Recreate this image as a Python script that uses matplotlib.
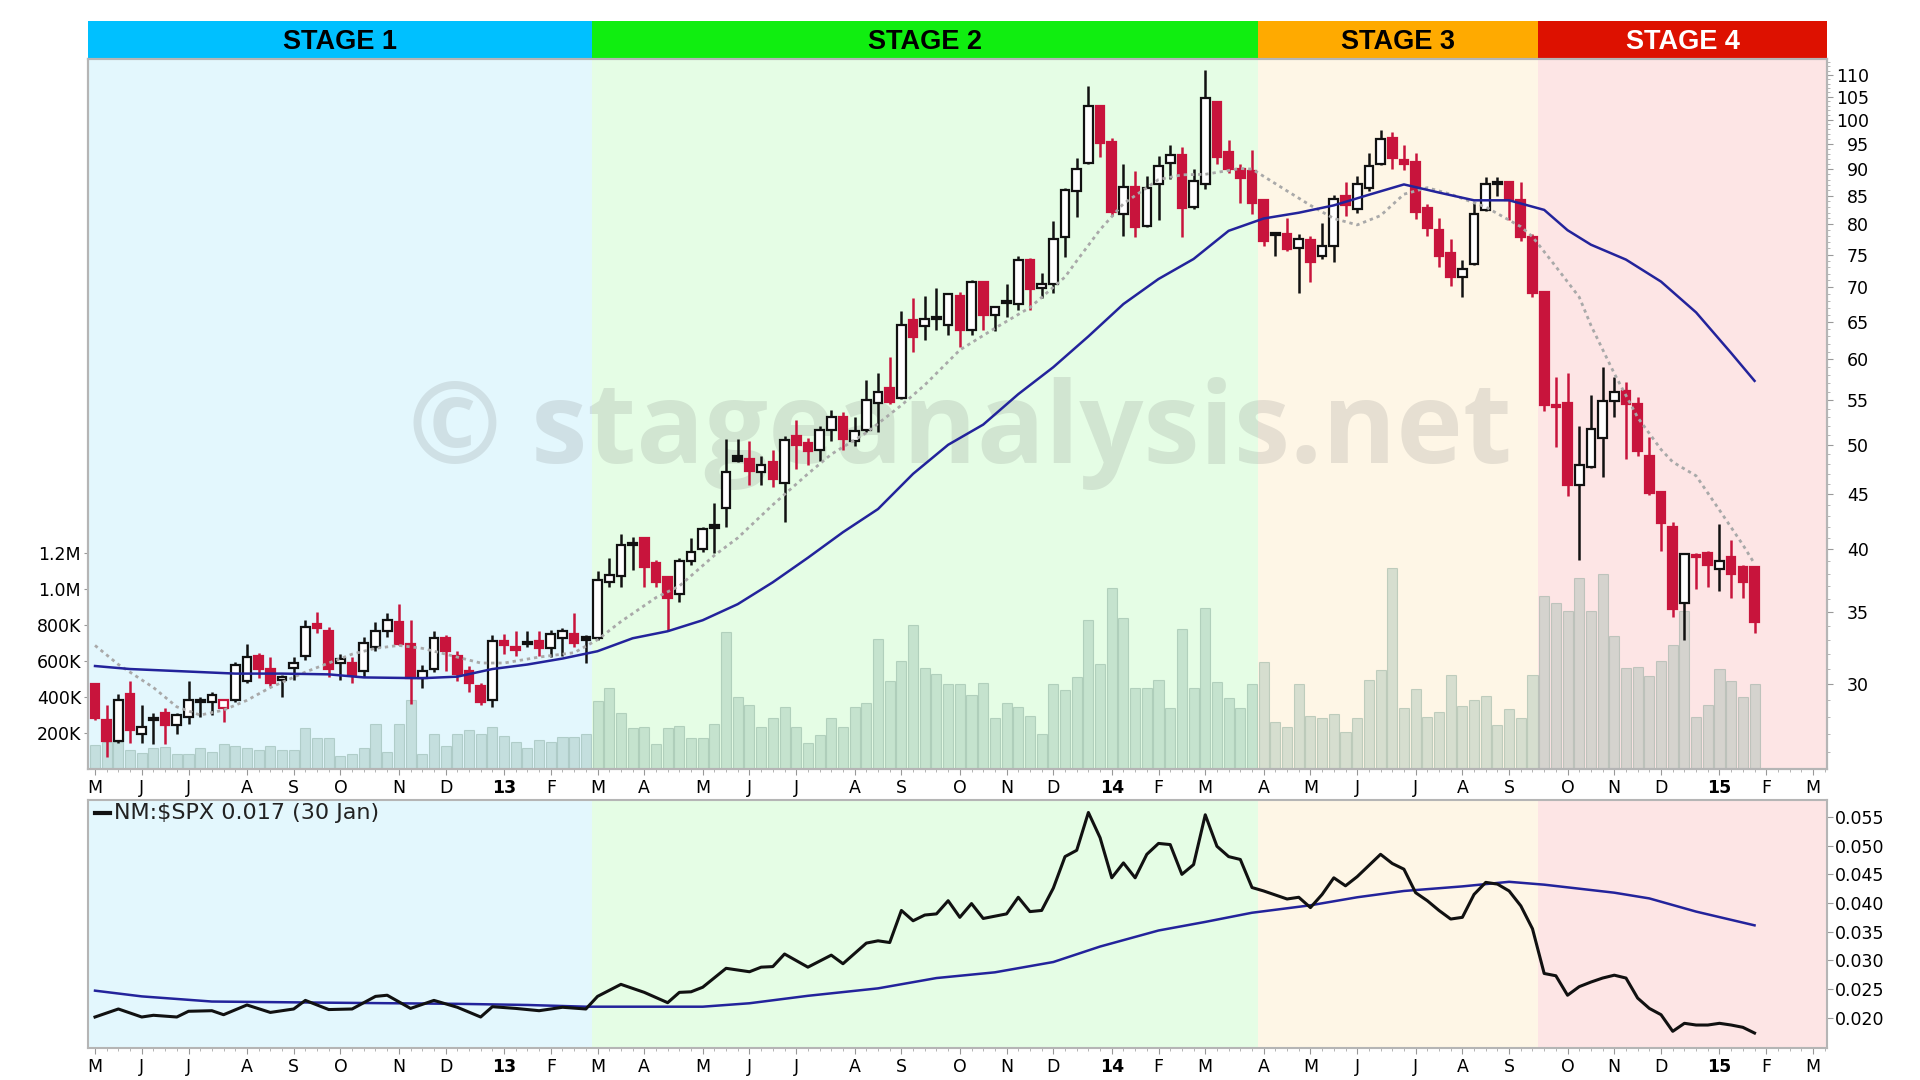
import matplotlib
matplotlib.use('Agg')
import matplotlib.pyplot as plt
from matplotlib.lines import Line2D
from matplotlib.patches import Rectangle
from matplotlib.ticker import FixedLocator, FuncFormatter, NullFormatter
import numpy as np
import pandas as pd

plt.rcParams['font.family'] = ['DejaVu Sans']

# weekly bars, first week ends 11 May 2012, last one 30 Jan 2015
first_week = '2012-05-11'

opens = [30.0, 27.8, 26.6, 29.4, 27.0, 27.8, 28.2, 27.5, 28.0, 28.9,
         28.9, 28.5, 29.0, 30.2, 31.9, 31.0, 30.3, 31.1, 31.9, 34.1,
         33.6, 31.4, 31.4, 30.9, 32.5, 33.6, 34.3, 32.7, 30.4, 31.0,
         33.1, 31.9, 30.9, 29.9, 29.0, 32.9, 32.5, 32.8, 32.9, 32.4,
         33.1, 33.4, 33.2, 33.1, 37.3, 37.8, 40.4, 41.0, 38.9, 37.7,
         36.4, 39.0, 40.0, 42.1, 43.7, 48.8, 48.5, 47.2, 48.2, 46.1,
         50.9, 50.2, 49.4, 51.6, 53.1, 50.4, 51.6, 54.7, 56.4, 55.2,
         65.2, 64.4, 65.5, 64.5, 68.7, 63.8, 70.7, 66.0, 67.8, 67.5,
         74.1, 69.8, 70.5, 77.9, 85.9, 91.2, 102.9, 95.3, 81.7, 86.7,
         79.7, 87.1, 91.2, 92.8, 83.0, 87.1, 103.9, 93.4, 90.1, 89.6,
         84.2, 78.4, 78.4, 76.1, 77.4, 74.7, 76.4, 85.0, 82.6, 86.5,
         91.0, 96.2, 91.8, 91.4, 82.8, 79.0, 75.2, 71.5, 73.5, 82.5,
         87.4, 87.6, 84.2, 77.9, 69.2, 54.4, 54.7, 45.9, 47.7, 50.7,
         54.9, 56.1, 54.5, 48.8, 45.2, 42.0, 35.7, 39.5, 39.7, 38.4,
         39.4, 38.5, 38.5]
highs = [30.1, 28.7, 29.4, 30.2, 28.7, 28.2, 28.5, 28.2, 30.2, 29.2,
         29.5, 29.1, 31.5, 32.7, 32.1, 31.8, 30.6, 31.8, 34.4, 35.0,
         33.9, 32.0, 31.8, 33.2, 34.3, 34.9, 35.6, 34.4, 31.3, 33.6,
         33.3, 32.2, 31.2, 30.1, 33.3, 33.4, 33.6, 33.6, 33.6, 33.7,
         33.8, 34.9, 33.3, 38.2, 39.3, 41.3, 41.1, 41.0, 39.1, 37.8,
         39.3, 41.0, 42.0, 44.2, 50.6, 50.6, 50.4, 48.8, 49.5, 50.9,
         52.7, 50.7, 52.0, 53.8, 53.6, 53.1, 57.4, 58.3, 60.3, 66.5,
         68.4, 68.7, 69.9, 69.1, 69.3, 71.0, 70.8, 67.2, 70.4, 74.7,
         74.4, 72.1, 80.5, 86.4, 92.1, 107.4, 103.0, 96.2, 91.0, 89.7,
         88.6, 92.6, 94.8, 94.4, 90.1, 111.2, 104.0, 95.7, 91.0, 93.7,
         84.3, 78.6, 81.0, 78.3, 78.1, 80.3, 85.2, 87.6, 88.6, 93.2,
         97.8, 97.4, 94.8, 93.1, 83.6, 81.0, 77.6, 74.1, 83.8, 88.5,
         88.5, 87.7, 87.6, 78.3, 69.3, 57.8, 58.3, 52.0, 55.6, 59.0,
         57.8, 57.2, 55.4, 50.8, 45.3, 42.4, 39.7, 39.7, 39.9, 42.2,
         40.8, 38.7, 38.6]
lows = [27.8, 25.7, 26.5, 26.5, 26.5, 26.4, 26.4, 27.0, 27.6, 28.0,
        28.1, 27.7, 28.9, 30.1, 30.4, 29.9, 29.2, 30.3, 31.6, 33.5,
        30.5, 30.3, 30.1, 30.5, 32.2, 33.2, 32.6, 28.8, 29.8, 30.8,
        30.9, 30.2, 29.5, 28.7, 28.6, 32.0, 31.9, 32.5, 31.9, 31.8,
        31.9, 32.5, 31.4, 33.0, 36.9, 36.9, 38.3, 36.9, 36.9, 33.6,
        35.8, 38.7, 39.8, 39.7, 42.0, 48.2, 45.9, 45.9, 45.7, 42.4,
        47.5, 47.9, 48.3, 50.4, 49.5, 49.9, 51.4, 51.4, 54.6, 55.1,
        61.0, 62.5, 63.9, 63.2, 61.6, 63.2, 63.8, 63.7, 65.7, 66.6,
        66.6, 68.4, 69.1, 74.6, 81.2, 91.0, 92.3, 81.4, 78.1, 77.8,
        79.5, 80.7, 88.2, 77.8, 82.6, 86.3, 91.0, 89.3, 83.8, 81.8,
        76.4, 74.7, 75.6, 69.1, 70.8, 74.3, 73.9, 81.4, 82.0, 85.9,
        90.8, 90.1, 89.8, 80.9, 78.1, 73.0, 70.2, 68.5, 73.4, 82.3,
        85.0, 80.7, 77.2, 68.5, 53.7, 49.8, 44.8, 39.1, 47.6, 46.7,
        53.1, 48.5, 48.8, 44.9, 39.9, 34.6, 33.0, 36.8, 36.9, 36.6,
        36.1, 36.1, 33.5]
closes = [27.9, 26.6, 29.0, 27.2, 27.4, 27.9, 27.5, 28.1, 29.0, 29.0,
          29.3, 29.0, 31.3, 31.8, 31.0, 30.1, 30.5, 31.4, 33.9, 33.8,
          31.0, 31.7, 30.6, 32.8, 33.6, 34.4, 32.7, 30.4, 30.9, 33.1,
          32.2, 30.7, 30.1, 28.9, 32.9, 32.6, 32.3, 32.7, 32.4, 33.4,
          33.6, 32.8, 33.0, 37.5, 37.9, 40.4, 40.5, 38.5, 37.3, 36.1,
          39.0, 39.8, 41.8, 41.9, 47.2, 48.3, 47.3, 47.9, 46.5, 50.5,
          50.0, 49.3, 51.6, 53.1, 50.6, 51.5, 55.0, 55.9, 54.8, 64.6,
          62.9, 65.4, 65.4, 69.0, 63.9, 70.7, 65.9, 67.1, 67.7, 74.1,
          69.7, 70.4, 77.6, 86.0, 90.1, 102.9, 95.2, 82.2, 86.7, 79.5,
          86.5, 90.6, 92.8, 82.8, 87.7, 104.7, 92.3, 90.0, 88.3, 83.8,
          77.2, 78.2, 75.9, 77.5, 73.9, 76.4, 84.4, 83.3, 87.1, 90.6,
          96.0, 92.1, 91.0, 82.2, 79.4, 74.8, 71.5, 72.7, 81.7, 87.1,
          87.2, 84.2, 77.8, 69.1, 54.4, 54.2, 45.9, 47.9, 51.7, 54.9,
          56.0, 54.6, 49.3, 45.1, 42.3, 35.2, 39.6, 39.4, 38.7, 39.0,
          38.0, 37.3, 34.3]
volume_k = [133, 152, 152, 106, 91, 115, 124, 81, 81, 115,
            93, 137, 128, 118, 106, 128, 106, 106, 226, 170,
            170, 72, 83, 115, 250, 93, 250, 383, 83, 194,
            128, 194, 217, 194, 235, 183, 148, 115, 161, 148,
            180, 180, 193, 380, 448, 313, 226, 235, 137, 226,
            239, 170, 170, 248, 763, 401, 357, 234, 281, 346,
            234, 147, 191, 281, 234, 346, 368, 724, 491, 601,
            800, 558, 526, 469, 469, 411, 480, 281, 368, 346,
            292, 195, 469, 439, 508, 827, 583, 1006, 839, 450,
            450, 495, 339, 777, 450, 892, 482, 394, 339, 470,
            595, 261, 231, 470, 294, 281, 306, 206, 281, 495,
            550, 1118, 341, 446, 291, 314, 523, 350, 381, 405,
            245, 333, 281, 523, 958, 922, 879, 1058, 879, 1081,
            737, 559, 566, 517, 599, 689, 879, 291, 357, 553,
            486, 398, 469]

# 30-week (blue) and 10-week (dotted) moving averages
ma30_week = [0, 3, 6, 9, 12, 16, 20, 23, 28, 31, 34, 37, 40, 43, 46, 49, 52,
             55, 58, 61, 64, 67, 70, 73, 76, 79, 82, 85, 88, 91, 94, 97, 100,
             103, 106, 109, 112, 115, 118, 121, 124, 126, 128, 131, 134, 137,
             140, 142]
ma30_val = [31.2, 31.0, 30.9, 30.8, 30.7, 30.7, 30.65, 30.45, 30.4, 30.5,
            31.0, 31.3, 31.7, 32.2, 33.1, 33.6, 34.4, 35.6, 37.3, 39.3, 41.5,
            43.6, 47.0, 50.0, 52.2, 55.7, 59.0, 63.0, 67.5, 71.2, 74.3, 78.9,
            81.0, 82.0, 83.3, 85.2, 87.1, 85.6, 84.2, 84.2, 82.5, 79.0, 76.6,
            74.2, 70.8, 66.3, 60.8, 57.3]
ma10_week = [0, 2, 5, 7, 9, 11, 13, 15, 18, 20, 22, 24, 26, 28, 30, 33, 35,
             38, 41, 43, 45, 48, 50, 53, 55, 58, 61, 63, 66, 69, 71, 74, 77,
             80, 83, 84, 86, 88, 91, 93, 95, 98, 99, 102, 104, 106, 108, 110,
             112, 114, 116, 119, 122, 123, 125, 127, 128, 130, 132, 134, 135,
             137, 139, 141, 142]
ma10_val = [32.6, 31.3, 29.8, 28.6, 28.1, 28.4, 29.0, 29.8, 30.8, 31.4, 32.0,
            32.4, 32.6, 32.4, 32.0, 31.4, 31.4, 31.8, 32.1, 33.0, 34.3, 36.1,
            37.0, 39.5, 41.0, 44.0, 47.0, 49.0, 51.3, 54.4, 56.8, 61.2, 64.1,
            67.0, 71.5, 74.0, 79.1, 83.6, 88.0, 88.9, 89.0, 90.1, 90.0, 85.9,
            83.3, 81.0, 79.9, 81.5, 85.3, 86.5, 85.3, 83.0, 79.6, 77.9, 73.1,
            68.5, 64.5, 58.2, 53.0, 49.5, 48.2, 46.8, 43.5, 40.4, 38.8]

# relative strength vs S&P 500 and its moving average
rs_week = [0, 2, 4, 5, 7, 8, 10, 11, 13, 15, 17, 18, 20, 22, 24, 25, 27, 29,
           31, 33, 34, 36, 38, 40, 42, 43, 45, 47, 49, 50, 51, 52, 54, 56, 57,
           58, 59, 61, 63, 64, 66, 67, 68, 69, 70, 71, 72, 73, 74, 75, 76, 78,
           79, 80, 81, 82, 83, 84, 85, 86, 87, 88, 89, 90, 91, 92, 93, 94, 95,
           96, 97, 98, 99, 100, 102, 103, 104, 105, 106, 107, 108, 110, 111,
           112, 113, 114, 115, 116, 117, 118, 119, 120, 121, 122, 123, 124,
           125, 126, 127, 128, 129, 130, 131, 132, 133, 134, 135, 136, 137,
           138, 139, 140, 141, 142]
rs_val = [0.0201, 0.0215, 0.0201, 0.0204, 0.0201, 0.0211, 0.0212, 0.0205,
          0.0222, 0.0209, 0.0215, 0.0230, 0.0214, 0.0215, 0.0237, 0.0239,
          0.0216, 0.0230, 0.0218, 0.0201, 0.0219, 0.0216, 0.0212, 0.0218,
          0.0215, 0.0237, 0.0258, 0.0244, 0.0226, 0.0244, 0.0245, 0.0253,
          0.0286, 0.0280, 0.0288, 0.0289, 0.0311, 0.0288, 0.0309, 0.0294,
          0.0330, 0.0334, 0.0331, 0.0387, 0.0369, 0.0379, 0.0381, 0.0404,
          0.0375, 0.0399, 0.0373, 0.0381, 0.0410, 0.0385, 0.0387, 0.0426,
          0.0481, 0.0492, 0.0558, 0.0514, 0.0444, 0.0470, 0.0444, 0.0485,
          0.0504, 0.0502, 0.0450, 0.0467, 0.0554, 0.0499, 0.0481, 0.0476,
          0.0427, 0.0421, 0.0407, 0.0410, 0.0392, 0.0415, 0.0444, 0.0430,
          0.0446, 0.0485, 0.0469, 0.0459, 0.0418, 0.0404, 0.0387, 0.0372,
          0.0375, 0.0415, 0.0436, 0.0433, 0.0421, 0.0395, 0.0355, 0.0277,
          0.0273, 0.0239, 0.0254, 0.0262, 0.0269, 0.0274, 0.0269, 0.0234,
          0.0216, 0.0205, 0.0176, 0.0190, 0.0187, 0.0187, 0.0190, 0.0187,
          0.0183, 0.0173]
rsma_week = [0, 4, 10, 20, 31, 37, 42, 52, 56, 61, 67, 72, 77, 82, 86, 91,
             95, 99, 104, 108, 112, 117, 121, 124, 130, 133, 137, 142]
rsma_val = [0.0247, 0.0237, 0.0228, 0.0226, 0.0224, 0.0222, 0.0219, 0.0219,
            0.0225, 0.0238, 0.0251, 0.0269, 0.0279, 0.0297, 0.0324, 0.0352,
            0.0367, 0.0383, 0.0396, 0.0410, 0.0421, 0.0429, 0.0437, 0.0432,
            0.0418, 0.0408, 0.0385, 0.0361]

stage_names = ['STAGE 1', 'STAGE 2', 'STAGE 3', 'STAGE 4']
stage_edges = [-0.6, 42.5, 99.5, 123.5, 148.2]
stage_head = ['#00c0ff', '#10ee10', '#ffaa00', '#dd1100']
stage_text = ['black', 'black', 'black', 'white']
stage_bg = ['#e3f7fd', '#e5fde5', '#fef6e6', '#fde5e5']

n = len(closes)
x = np.arange(n)
xlim = (stage_edges[0], stage_edges[-1])

# month labels sit on the first bar whose week starts in that month
dates = pd.date_range(first_week, periods=n + 6, freq='7D')
mondays = dates - pd.Timedelta(days=4)
tick_pos, tick_lab = [], []
prev = None
for i, d in enumerate(mondays):
    key = (d.year, d.month)
    if key != prev:
        tick_pos.append(i)
        tick_lab.append(d.strftime('%y') if d.month == 1 else d.strftime('%b')[0])
        prev = key

fig = plt.figure(figsize=(19.2, 10.8), dpi=100)
L = 88 / 1920
W = (1827 - 88) / 1920

hdr = fig.add_axes([L, 1 - 59 / 1080, W, 38 / 1080])
axv = fig.add_axes([L, 1 - 769 / 1080, W, 710 / 1080])
ax = axv.twinx()
ax2 = fig.add_axes([L, 1 - 1048 / 1080, W, 248 / 1080])

# header band
hdr.set_xlim(*xlim)
hdr.set_ylim(0, 1)
hdr.axis('off')
for k in range(4):
    hdr.axvspan(stage_edges[k], stage_edges[k + 1], color=stage_head[k], lw=0)
    hdr.text((stage_edges[k] + stage_edges[k + 1]) / 2, 0.45, stage_names[k],
             ha='center', va='center', fontsize=19.5, fontweight='bold',
             color=stage_text[k], family='Liberation Sans')

# stage backgrounds
for a in (axv, ax2):
    for k in range(4):
        a.axvspan(stage_edges[k], stage_edges[k + 1], color=stage_bg[k], lw=0, zorder=0)

# volume
axv.bar(x, np.array(volume_k) * 1000, width=0.86, color='#8cb4a5', alpha=0.35,
        edgecolor='#6f9586', linewidth=0.8, zorder=2)
axv.set_ylim(0, 3.94e6)
axv.set_xlim(*xlim)
axv.yaxis.set_major_locator(FixedLocator([2e5, 4e5, 6e5, 8e5, 1e6, 1.2e6]))
axv.set_yticklabels(['200K', '400K', '600K', '800K', '1.0M', '1.2M'])
axv.tick_params(axis='y', labelsize=12.5, length=3, pad=2, color='#999999')

wm = axv.text(0.184, 0.431, '\u00a9 stageanalysis.net', transform=axv.transAxes,
              fontsize=80, fontweight='bold', color='#6a6a6a', alpha=0.16,
              ha='left', va='baseline', zorder=1, family='Open Sans')

# candles
up_col, dn_col = '#111111', '#c8143c'
bw = 0.74
for i in range(n):
    o, h, l, c = opens[i], highs[i], lows[i], closes[i]
    pc = closes[i - 1] if i else o
    col = up_col if c >= pc else dn_col
    face = col if c < o else 'white'
    ax.vlines(i, l, h, color=col, lw=1.8, zorder=3)
    lo, hi = min(o, c), max(o, c)
    if hi / lo < 1.004:
        hi = lo * 1.004
    ax.add_patch(Rectangle((i - bw / 2, lo), bw, hi - lo, facecolor=face,
                           edgecolor=col, lw=1.6, zorder=4))

ax.plot(ma10_week, ma10_val, color='#a9a9a9', lw=2, ls=(0, (1.2, 1.4)), zorder=5)
ax.plot(ma30_week, ma30_val, color='#23239b', lw=1.8, zorder=5)

ax.set_yscale('log')
ax.set_ylim(25.05, 113.8)
ax.set_xlim(*xlim)
ax.yaxis.set_major_locator(FixedLocator(list(range(30, 111, 5))))
ax.yaxis.set_major_formatter(FuncFormatter(lambda v, p: '%d' % round(v)))
ax.yaxis.set_minor_locator(FixedLocator(list(range(26, 114))))
ax.yaxis.set_minor_formatter(NullFormatter())
ax.tick_params(axis='y', which='major', labelsize=12.5, length=4, pad=26,
               color='#999999')
ax.tick_params(axis='y', which='minor', length=2.5, color='#aaaaaa')
for t in ax.get_yticklabels():
    t.set_ha('right')

# lower panel: relative strength
ax2.plot(rsma_week, rsma_val, color='#23239b', lw=1.8, zorder=3)
ax2.plot(rs_week, rs_val, color='#111111', lw=2.2, zorder=4)
ax2.set_xlim(*xlim)
ax2.set_ylim(0.01469, 0.05798)
ax2.yaxis.tick_right()
ax2.yaxis.set_major_locator(FixedLocator([0.02, 0.025, 0.03, 0.035, 0.04, 0.045, 0.05, 0.055]))
ax2.yaxis.set_major_formatter(FuncFormatter(lambda v, p: '%.3f' % v))
ax2.tick_params(axis='y', labelsize=12.5, length=4, pad=2, color='#999999')
ax2.add_line(Line2D([0.004, 0.0125], [0.948, 0.948], transform=ax2.transAxes,
                    color='#111111', lw=3))
ax2.text(0.015, 0.948, 'NM:$SPX 0.017 (30 Jan)', transform=ax2.transAxes,
         ha='left', va='center', fontsize=16, color='#222222')

# month axes
for a in (axv, ax2):
    a.set_xticks(tick_pos)
    a.set_xticklabels(tick_lab)
    a.xaxis.set_minor_locator(FixedLocator(list(range(0, 149))))
    a.tick_params(axis='x', which='major', labelsize=12.5, length=4, pad=3,
                  color='#999999')
    a.tick_params(axis='x', which='minor', length=2, color='#aaaaaa')
    for t in a.get_xticklabels():
        if t.get_text().isdigit():
            t.set_fontweight('bold')
ax.tick_params(axis='x', which='both', bottom=False, labelbottom=False)

for a in (axv, ax, ax2):
    for s in a.spines.values():
        s.set_color('#b5b5b5')
        s.set_linewidth(1.5)

# fit the watermark to its width on the chart
fig.canvas.draw()
bb = wm.get_window_extent()
wm.set_fontsize(80 * 1104 / bb.width)

fig.savefig('out.png', dpi=100, facecolor='white')
